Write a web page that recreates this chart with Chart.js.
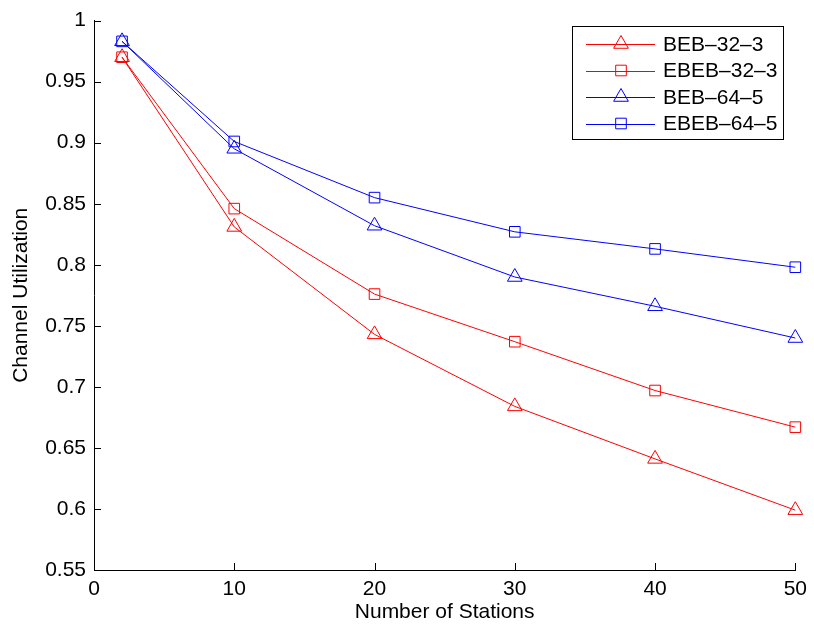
<!DOCTYPE html>
<html>
<head>
<meta charset="utf-8">
<script src="https://cdn.jsdelivr.net/npm/chart.js@4.4.1/dist/chart.umd.min.js"></script>
<style>
  html, body { margin: 0; padding: 0; background: #fff; }
  #wrap { width: 814px; height: 628px; }
</style>
</head>
<body>
<div id="wrap"><canvas id="c" width="814" height="628"></canvas></div>
<script>
// number of stations
var stations = [2, 10, 20, 30, 40, 50];
// channel utilization per scheme
var beb32 = [0.970, 0.831, 0.743, 0.684, 0.641, 0.599];
var ebeb32 = [0.970, 0.846, 0.776, 0.737, 0.697, 0.667];
var beb64 = [0.983, 0.895, 0.832, 0.790, 0.766, 0.740];
var ebeb64 = [0.983, 0.901, 0.855, 0.827, 0.813, 0.798];
var seriesNames = ["BEB\u201332\u20133", "EBEB\u201332\u20133", "BEB\u201364\u20135", "EBEB\u201364\u20135"];
var xTicks = [0, 10, 20, 30, 40, 50];
var yTicks = [0.55, 0.6, 0.65, 0.7, 0.75, 0.8, 0.85, 0.9, 0.95, 1];

var FONT = "'Liberation Sans', Arial, sans-serif";
var FSIZE = 21;

function pts(vals) {
    return stations.map(function (s, i) { return { x: s, y: vals[i] }; });
}
function makeSet(name, vals, colour, shape) {
    return {
        label: name,
        data: pts(vals),
        borderColor: colour,
        backgroundColor: "rgba(0,0,0,0)",
        borderWidth: 1,
        pointStyle: shape,
        pointRadius: shape == "triangle" ? 8.5 : 7.5,
        pointBorderWidth: 1,
        pointBorderColor: colour,
        pointBackgroundColor: "rgba(0,0,0,0)",
        tension: 0,
        clip: false
    };
}

// inward tick marks, MATLAB style
var tickMarks = {
    id: "tickMarks",
    afterDraw: function (chart) {
        var ctx = chart.ctx, a = chart.chartArea;
        var xs = chart.scales.x, ys = chart.scales.y;
        ctx.save();
        ctx.strokeStyle = "#000";
        ctx.lineWidth = 1;
        ctx.beginPath();
        xTicks.forEach(function (t) {
            var px = Math.round(xs.getPixelForValue(t)) + 0.5;
            ctx.moveTo(px, a.bottom);
            ctx.lineTo(px, a.bottom - 7);
        });
        yTicks.forEach(function (t) {
            var py = Math.round(ys.getPixelForValue(t)) + 0.5;
            ctx.moveTo(a.left, py);
            ctx.lineTo(a.left + 7, py);
        });
        ctx.stroke();
        ctx.restore();
    }
};

// legend box inside the plot
var boxLegend = {
    id: "boxLegend",
    afterDraw: function (chart) {
        var ctx = chart.ctx;
        var bx = 572.5, by = 26.5, bw = 211, bh = 113;
        ctx.save();
        ctx.fillStyle = "#fff";
        ctx.fillRect(bx, by, bw, bh);
        ctx.strokeStyle = "#000";
        ctx.lineWidth = 1;
        ctx.strokeRect(bx, by, bw, bh);
        ctx.font = FSIZE + "px " + FONT;
        ctx.textBaseline = "middle";
        ctx.textAlign = "left";
        chart.data.datasets.forEach(function (ds, i) {
            var y = 44 + i * 26.5;
            ctx.strokeStyle = ds.borderColor;
            ctx.lineWidth = 1;
            ctx.beginPath();
            ctx.moveTo(586, Math.round(y) + 0.5);
            ctx.lineTo(655, Math.round(y) + 0.5);
            ctx.stroke();
            ctx.fillStyle = "rgba(0,0,0,0)";
            Chart.helpers.drawPoint(ctx, {
                pointStyle: ds.pointStyle,
                radius: ds.pointRadius,
                borderWidth: 1
            }, 621, y);
            ctx.fillStyle = "#000";
            ctx.fillText(seriesNames[i], 663, y + 1);
        });
        ctx.restore();
    }
};

new Chart(document.getElementById("c"), {
    type: "line",
    data: {
        datasets: [
            makeSet(seriesNames[0], beb32, "#ff0000", "triangle"),
            makeSet(seriesNames[1], ebeb32, "#ff0000", "rect"),
            makeSet(seriesNames[2], beb64, "#0000ff", "triangle"),
            makeSet(seriesNames[3], ebeb64, "#0000ff", "rect")
        ]
    },
    options: {
        responsive: false,
        animation: false,
        layout: { padding: { left: 0, right: 16, top: 15, bottom: 0 } },
        plugins: {
            legend: { display: false },
            tooltip: { enabled: false }
        },
        scales: {
            x: {
                type: "linear",
                position: "bottom",
                min: 0,
                max: 50,
                afterBuildTicks: function (s) { s.ticks = xTicks.map(function (v) { return { value: v }; }); },
                afterFit: function (s) { s.height = 58; },
                grid: { display: false, drawTicks: false },
                border: { display: true, color: "#000", width: 1 },
                ticks: { color: "#000", font: { family: FONT, size: FSIZE }, padding: 7, maxRotation: 0 },
                title: {
                    display: true,
                    text: "Number of Stations",
                    color: "#000",
                    font: { family: FONT, size: FSIZE },
                    padding: { top: 0, bottom: 3 }
                }
            },
            y: {
                type: "linear",
                min: 0.55,
                max: 1,
                afterBuildTicks: function (s) { s.ticks = yTicks.map(function (v) { return { value: v }; }); },
                afterFit: function (s) { s.width = 94; },
                grid: { display: false, drawTicks: false },
                border: { display: true, color: "#000", width: 1 },
                ticks: {
                    color: "#000",
                    font: { family: FONT, size: FSIZE },
                    padding: 8,
                    callback: function (v) { return String(Math.round(v * 100) / 100); }
                },
                title: {
                    display: true,
                    text: "Channel Utilization",
                    color: "#000",
                    font: { family: FONT, size: FSIZE },
                    padding: { top: 9, bottom: 0 }
                }
            }
        }
    },
    plugins: [tickMarks, boxLegend]
});
</script>
</body>
</html>
